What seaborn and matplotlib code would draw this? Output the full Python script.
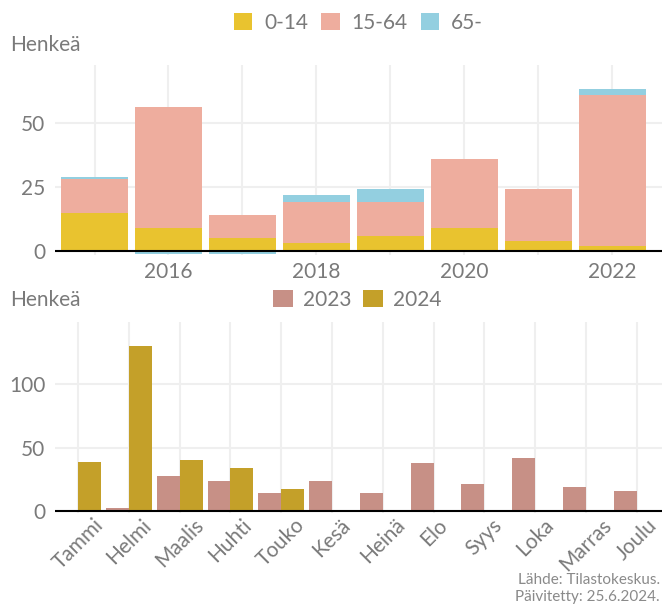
import matplotlib
matplotlib.use("Agg")
import matplotlib.pyplot as plt
import matplotlib.patches as mpatches
import seaborn as sns
import pandas as pd
import numpy as np

# ---------------- data ----------------
years = ["2015", "2016", "2017", "2018", "2019", "2020", "2021", "2022"]
year_ticklabels = ["", "2016", "", "2018", "", "2020", "", "2022"]
age_0_14 = [15, 9, 5, 3, 6, 9, 4, 2]
age_15_64 = [13, 47, 9, 16, 13, 27, 20, 59]
age_65 = [1, -1, -1, 3, 5, 0, 0, 2]
age_labels = ["0-14", "15-64", "65-"]

months = ["Tammi", "Helmi", "Maalis", "Huhti", "Touko", "Kesä",
          "Heinä", "Elo", "Syys", "Loka", "Marras", "Joulu"]
values_2023 = [1, 2, 28, 24, 14, 24, 14, 38, 21, 42, 19, 16]
values_2024 = [39, 130, 40, 34, 17]
series_labels = ["2023", "2024"]

# ---------------- style ----------------
age_colors = ["#E9C32F", "#EEAD9E", "#93CFE0"]
month_colors = ["#C79086", "#C4A029"]
txt = "#7A7A7A"

sns.set_theme(style="whitegrid", rc={
    "grid.color": "#EFEFEF", "grid.linewidth": 1.5,
    "axes.edgecolor": "none", "axes.facecolor": "white",
})
plt.rcParams["font.family"] = ["Lato", "DejaVu Sans"]

fig = plt.figure(figsize=(6.62, 6.06), dpi=100)
W, H = 662, 606
ax1 = fig.add_axes([55 / W, 1 - 255 / H, 607 / W, 190 / H])
ax2 = fig.add_axes([55 / W, 1 - 513 / H, 607 / W, 191 / H])

# ---------------- top: stacked bars ----------------
a = np.array(age_0_14, dtype=float)
b = np.array(age_15_64, dtype=float)
c = np.array(age_65, dtype=float)
layer_65 = np.where(c > 0, a + b + c, c)
layer_15 = a + b
layer_0 = a
for heights, col in [(layer_65, age_colors[2]), (layer_15, age_colors[1]), (layer_0, age_colors[0])]:
    df = pd.DataFrame({"year": years, "value": heights})
    sns.barplot(data=df, x="year", y="value", order=years, color=col,
                width=0.9, saturation=1, errorbar=None, linewidth=0,
                edgecolor="none", ax=ax1)

ax1.axhline(0, color="black", lw=1.5, zorder=5)
ax1.set_xticks(range(len(years)))
ax1.set_xticklabels(year_ticklabels)
ax1.set_xlim(-0.534, 7.67)
ax1.set_ylim(-1.56, 72.5)
ax1.set_yticks([0, 25, 50])
ax1.xaxis.grid(True)
ax1.yaxis.grid(True)
ax1.set_axisbelow(True)
ax1.set_xlabel("")
ax1.set_ylabel("")
ax1.tick_params(axis="both", length=0, labelsize=15, labelcolor=txt)
ax1.tick_params(axis="x", pad=5)
ax1.tick_params(axis="y", pad=7)

# ---------------- bottom: monthly grouped bars ----------------
rows = []
for m, v in zip(months, values_2023):
    rows.append({"month": m, "year": series_labels[0], "value": v})
for m, v in zip(months, values_2024):
    rows.append({"month": m, "year": series_labels[1], "value": v})
dfm = pd.DataFrame(rows)
sns.barplot(data=dfm, x="month", y="value", hue="year", order=months,
            hue_order=series_labels, palette=month_colors, width=0.9,
            saturation=1, errorbar=None, linewidth=0, edgecolor="none",
            dodge=True, legend=False, ax=ax2)
ax2.axhline(0, color="black", lw=1.5, zorder=5)
ax2.set_xlim(-0.457, 11.5)
ax2.set_ylim(-1.58, 149.2)
ax2.set_yticks([0, 50, 100])
ax2.xaxis.grid(True)
ax2.yaxis.grid(True)
ax2.set_axisbelow(True)
ax2.set_xlabel("")
ax2.set_ylabel("")
ax2.tick_params(axis="both", length=0, labelsize=15, labelcolor=txt)
ax2.tick_params(axis="y", pad=7)
ax2.tick_params(axis="x", pad=1.5)
for lab in ax2.get_xticklabels():
    lab.set_rotation(45)
    lab.set_ha("center")
    lab.set_va("top")

# ---------------- legends & texts ----------------
h1 = [mpatches.Patch(color=col, lw=0) for col in age_colors]
fig.legend(h1, age_labels, loc="center", bbox_to_anchor=(358.5 / W, 1 - 22.7 / H),
           ncol=3, frameon=False, fontsize=15, handlelength=0.87, handleheight=0.87,
           handletextpad=0.58, columnspacing=0.63, labelcolor=txt, borderpad=0, borderaxespad=0)
h2 = [mpatches.Patch(color=col, lw=0) for col in month_colors]
fig.legend(h2, series_labels, loc="center", bbox_to_anchor=(357.5 / W, 1 - 300 / H),
           ncol=2, frameon=False, fontsize=15, handlelength=0.95, handleheight=0.9,
           handletextpad=0.5, columnspacing=0.55, labelcolor=txt, borderpad=0, borderaxespad=0)

fig.text(10 / W, 1 - 45 / H, "Henkeä", ha="left", va="center", fontsize=15, color=txt)
fig.text(10 / W, 1 - 300 / H, "Henkeä", ha="left", va="center", fontsize=15, color=txt)
fig.text(660 / W, 1 - 580 / H, "Lähde: Tilastokeskus.", ha="right", va="center", fontsize=11, color="#8A8A8A")
fig.text(660 / W, 1 - 597 / H, "Päivitetty: 25.6.2024.", ha="right", va="center", fontsize=11, color="#8A8A8A")

fig.savefig("out.png", dpi=100)
